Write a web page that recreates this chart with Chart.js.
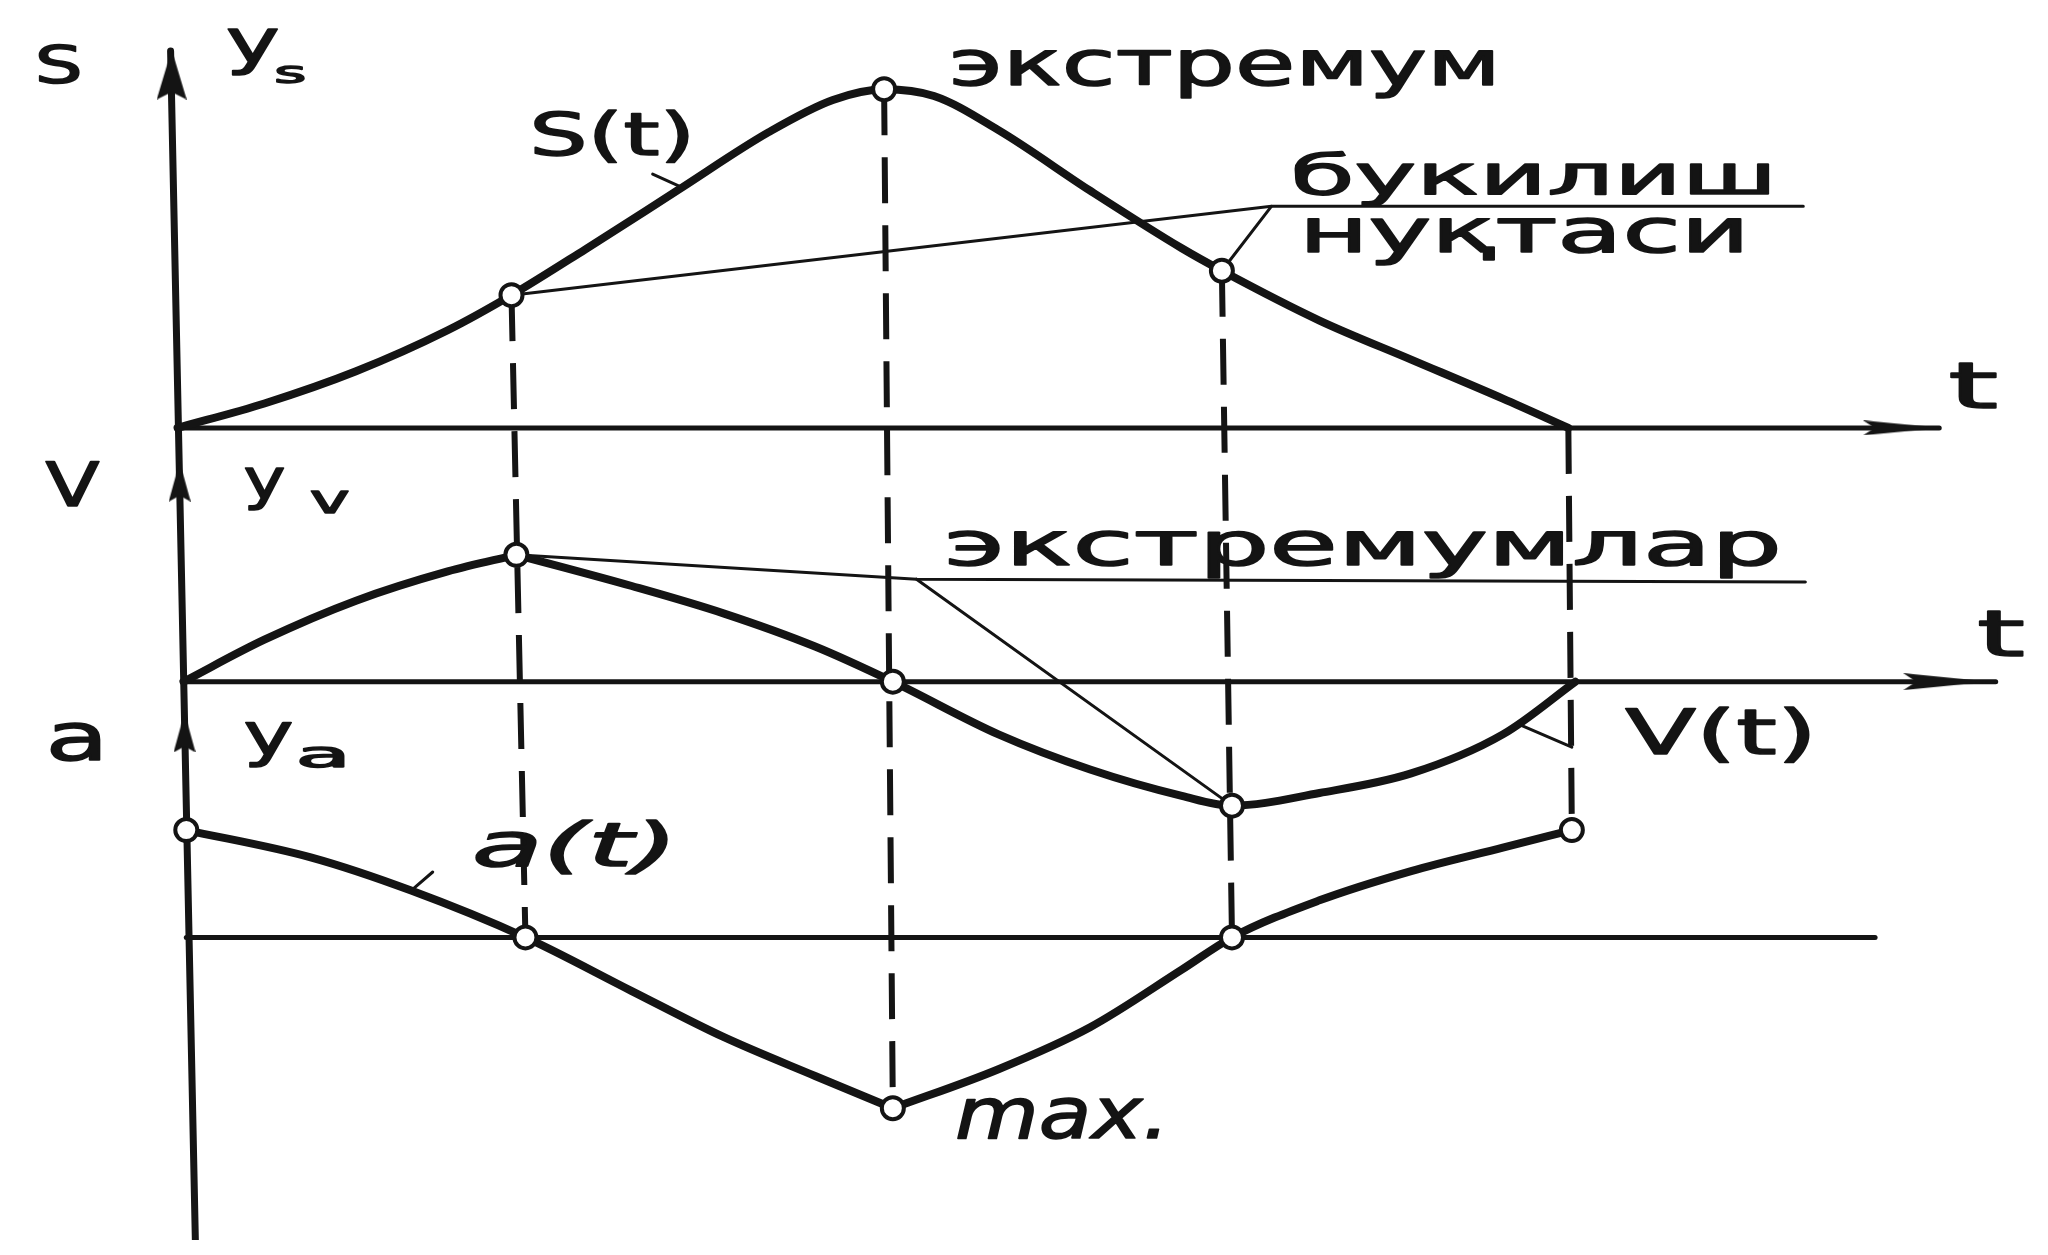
<!DOCTYPE html>
<html lang="uz">
<head>
<meta charset="utf-8">
<title>s(t), v(t), a(t)</title>
<script src="https://cdn.jsdelivr.net/npm/chart.js@4.4.1/dist/chart.umd.min.js"></script>
<style>
  html, body { margin: 0; padding: 0; background: #fff; }
  .chart-box { position: relative; width: 2048px; height: 1255px; }
</style>
</head>
<body>
<div class="chart-box"><canvas class="js-chart"></canvas></div>
<script>
const INK = "#141414";

// ===== s(t) =====
const sTime = [0, 0.249, 0.512, 0.775, 0.958, 1.17, 1.433, 1.696, 1.88, 2.027, 2.17, 2.355, 2.618, 2.881, 2.996, 3.276, 3.539, 3.802, 3.99];
const sValues = [0, 0.25, 0.58, 1.0, 1.36, 1.83, 2.43, 3.03, 3.36, 3.47, 3.4, 3.05, 2.43, 1.84, 1.61, 1.1, 0.7, 0.3, 0];
const sMarked = [4, 9, 14];

// ===== v(t) =====  (sharp top at index 4)
const vTime = [0.017, 0.249, 0.512, 0.775, 0.972, 1.303, 1.566, 1.829, 2.052, 2.355, 2.618, 2.881, 3.025, 3.276, 3.539, 3.802, 4.01];
const vValues = [0, 0.43, 0.83, 1.13, 1.3, 0.98, 0.7, 0.36, 0, -0.54, -0.9, -1.17, -1.27, -1.14, -0.94, -0.54, 0];
const vMarked = [4, 8, 12];
const vCorner = 4;

// ===== a(t) =====  (sharp bottom at index 7)
const aTime = [0.025, 0.382, 0.67, 0.998, 1.303, 1.566, 1.829, 2.052, 2.355, 2.618, 2.881, 3.025, 3.276, 3.539, 3.802, 4.0];
const aValues = [1.1, 0.82, 0.48, 0, -0.55, -1.02, -1.42, -1.75, -1.35, -0.92, -0.33, 0, 0.38, 0.68, 0.92, 1.1];
const aMarked = [0, 3, 7, 11, 15];
const aCorner = 7;

// dashed verticals: top on s(t), bottom on a(t)
const guideTop = [[0.958, 1.36], [2.027, 3.47], [2.996, 1.61], [3.99, 0]];
const guideBottom = [[0.998, 0], [2.052, -1.75], [3.025, 0], [4.0, 1.1]];

// axes: t-ends of the three baselines and the slanted vertical axis
const sAxisEnd = 5.054;
const vAxisEnd = 5.216;
const aAxisEnd = 4.87;
const yAxisLine = [[-0.02, 3.86], [0.051, -8.32]];

// leader lines to the notes
const bendLeader = [[0.958, 1.36], [3.138, 2.27], [4.664, 2.27]];
const bendLeader2 = [[2.996, 1.61], [3.138, 2.27]];
const sTick = [[1.363, 2.6], [1.45, 2.46]];
const extLeader = [[0.972, 1.3], [2.12, 1.05], [4.67, 1.02]];
const extLeader2 = [[2.12, 1.05], [3.025, -1.27]];
const vTick = [[3.85, -0.44], [4.0, -0.67]];
const aTick = [[0.67, 0.48], [0.732, 0.67]];

const labels = [
  { text: "S", axis: "ys", t: -0.41, y: 3.53, size: 52, width: 48 },
  { text: "y", axis: "ys", t: 0.138, y: 3.75, size: 60, width: 54 },
  { text: "s", axis: "ys", t: 0.277, y: 3.53, size: 30, width: 32 },
  { text: "S(t)", axis: "ys", t: 1.009, y: 2.8, size: 58, width: 166 },
  { text: "экстремум", axis: "ys", t: 2.213, y: 3.51, size: 62, width: 552 },
  { text: "букилиш", axis: "ys", t: 3.192, y: 2.4, size: 56, width: 487 },
  { text: "нуқтаси", axis: "ys", t: 3.217, y: 1.8, size: 60, width: 451 },
  { text: "t", axis: "ys", t: 5.08, y: 0.2, size: 64, width: 50 },
  { text: "V", axis: "yv", t: -0.379, y: 1.8, size: 60, width: 54 },
  { text: "y", axis: "yv", t: 0.189, y: 1.88, size: 56, width: 42 },
  { text: "v", axis: "yv", t: 0.379, y: 1.73, size: 40, width: 40 },
  { text: "экстремумлар", axis: "yv", t: 2.199, y: 1.2, size: 60, width: 838 },
  { text: "t", axis: "yv", t: 5.162, y: 0.26, size: 64, width: 48 },
  { text: "V(t)", axis: "yv", t: 4.153, y: -0.74, size: 62, width: 192 },
  { text: "a", axis: "ya", t: -0.379, y: 1.82, size: 66, width: 63 },
  { text: "y", axis: "ya", t: 0.189, y: 1.87, size: 58, width: 50 },
  { text: "a", axis: "ya", t: 0.339, y: 1.75, size: 36, width: 55 },
  { text: "a(t)", axis: "ya", t: 0.845, y: 0.73, size: 60, width: 206, italic: true },
  { text: "max.", axis: "ya", t: 2.23, y: -2.05, size: 72, width: 215, italic: true },
];

const ctx = document.querySelector(".js-chart").getContext("2d");

const toPoints = (ts, vs) => ts.map((t, i) => ({ x: t, y: vs[i] }));
const pairs = (list) => list.map(([x, y]) => ({ x, y }));

function makeArrow(w, h) {
  const c = document.createElement("canvas");
  c.width = w;
  c.height = h;
  const g = c.getContext("2d");
  g.fillStyle = INK;
  g.beginPath();
  g.moveTo(w / 2, 0);
  g.lineTo(w, h);
  g.lineTo(w / 2, h * 0.85);
  g.lineTo(0, h);
  g.closePath();
  g.fill();
  return c;
}

// a curve, split at the corner index so the corner stays sharp
function curve(ts, vs, axis, width, corner) {
  const points = toPoints(ts, vs);
  const pieces = corner == null ? [points] : [points.slice(0, corner + 1), points.slice(corner)];
  return pieces.map((data) => ({
    data,
    yAxisID: axis,
    showLine: true,
    borderColor: INK,
    borderWidth: width,
    borderCapStyle: "round",
    borderJoinStyle: "round",
    cubicInterpolationMode: "monotone",
    pointRadius: 0,
    order: 1,
  }));
}

function marks(ts, vs, idx, axis) {
  return {
    data: idx.map((i) => ({ x: ts[i], y: vs[i] })),
    yAxisID: axis,
    showLine: false,
    pointRadius: 11,
    pointBackgroundColor: "#fff",
    pointBorderColor: INK,
    pointBorderWidth: 4,
    order: 0,
  };
}

function line(points, axis, width, order = 3) {
  return {
    data: points,
    yAxisID: axis,
    showLine: true,
    borderColor: INK,
    borderWidth: width,
    borderCapStyle: "round",
    tension: 0,
    pointRadius: 0,
    order,
  };
}

function arrows(points, axis, styles, rotations) {
  return {
    data: pairs(points),
    yAxisID: axis,
    showLine: false,
    pointStyle: styles,
    pointRotation: rotations,
    order: 0,
  };
}

// dashed verticals go from one panel to another, so they are drawn through both scales
const guidesPlugin = {
  id: "guides",
  beforeDatasetsDraw(chart) {
    const g = chart.ctx;
    const { x, ys, ya } = chart.scales;
    g.save();
    g.strokeStyle = INK;
    g.lineWidth = 6;
    g.setLineDash([46, 22]);
    guideTop.forEach((top, i) => {
      const bottom = guideBottom[i];
      g.beginPath();
      g.moveTo(x.getPixelForValue(top[0]), ys.getPixelForValue(top[1]));
      g.lineTo(x.getPixelForValue(bottom[0]), ya.getPixelForValue(bottom[1]));
      g.stroke();
    });
    g.restore();
  },
};

const labelsPlugin = {
  id: "notes",
  afterDatasetsDraw(chart) {
    const g = chart.ctx;
    const x = chart.scales.x;
    labels.forEach((l) => {
      g.save();
      g.font = `${l.italic ? "italic " : ""}${l.size}px "DejaVu Sans"`;
      g.fillStyle = INK;
      g.strokeStyle = INK;
      g.lineWidth = 1.5;
      g.lineJoin = "round";
      g.textBaseline = "alphabetic";
      const w = g.measureText(l.text).width;
      g.translate(x.getPixelForValue(l.t), chart.scales[l.axis].getPixelForValue(l.y));
      g.scale(l.width / w, 1);
      g.fillText(l.text, 0, 0);
      g.strokeText(l.text, 0, 0);
      g.restore();
    });
  },
};

drawChart();

function drawChart() {
  const upBig = makeArrow(30, 50);
  const upSmall = makeArrow(22, 40);
  const rightS = makeArrow(15, 78);
  const rightV = makeArrow(17, 86);

  new Chart(ctx, {
    type: "scatter",
    data: {
      datasets: [
        arrows([[-0.017, 3.62], [4.947, 0]], "ys", [upBig, rightS], [0, 90]),
        arrows([[0.006, 2.05], [5.074, 0]], "yv", [upSmall, rightV], [0, 90]),
        arrows([[0.02, 2.1]], "ya", [upSmall], [0]),

        marks(sTime, sValues, sMarked, "ys"),
        marks(vTime, vValues, vMarked, "yv"),
        marks(aTime, aValues, aMarked, "ya"),

        ...curve(sTime, sValues, "ys", 8),
        ...curve(vTime, vValues, "yv", 8, vCorner),
        ...curve(aTime, aValues, "ya", 8, aCorner),

        line(pairs(yAxisLine), "ys", 7, 2),
        line(pairs([[0, 0], [sAxisEnd, 0]]), "ys", 5, 2),
        line(pairs([[0.017, 0], [vAxisEnd, 0]]), "yv", 5, 2),
        line(pairs([[0.025, 0], [aAxisEnd, 0]]), "ya", 5, 2),

        line(pairs(bendLeader), "ys", 3),
        line(pairs(bendLeader2), "ys", 3),
        line(pairs(sTick), "ys", 3),
        line(pairs(extLeader), "yv", 3),
        line(pairs(extLeader2), "yv", 3),
        line(pairs(vTick), "yv", 3),
        line(pairs(aTick), "ya", 3),
      ],
    },
    options: {
      responsive: true,
      maintainAspectRatio: false,
      animation: false,
      events: [],
      layout: { padding: 0 },
      plugins: {
        legend: { display: false },
        tooltip: { enabled: false },
      },
      scales: {
        x: { type: "linear", min: -0.4664, max: 5.323, display: false },
        ys: { type: "linear", position: "left", min: -8.32, max: 4.23, display: false },
        yv: { type: "linear", position: "left", min: -5.72, max: 6.83, display: false },
        ya: { type: "linear", position: "left", min: -3.1, max: 9.45, display: false },
      },
    },
    plugins: [guidesPlugin, labelsPlugin],
  });
}
</script>
</body>
</html>
